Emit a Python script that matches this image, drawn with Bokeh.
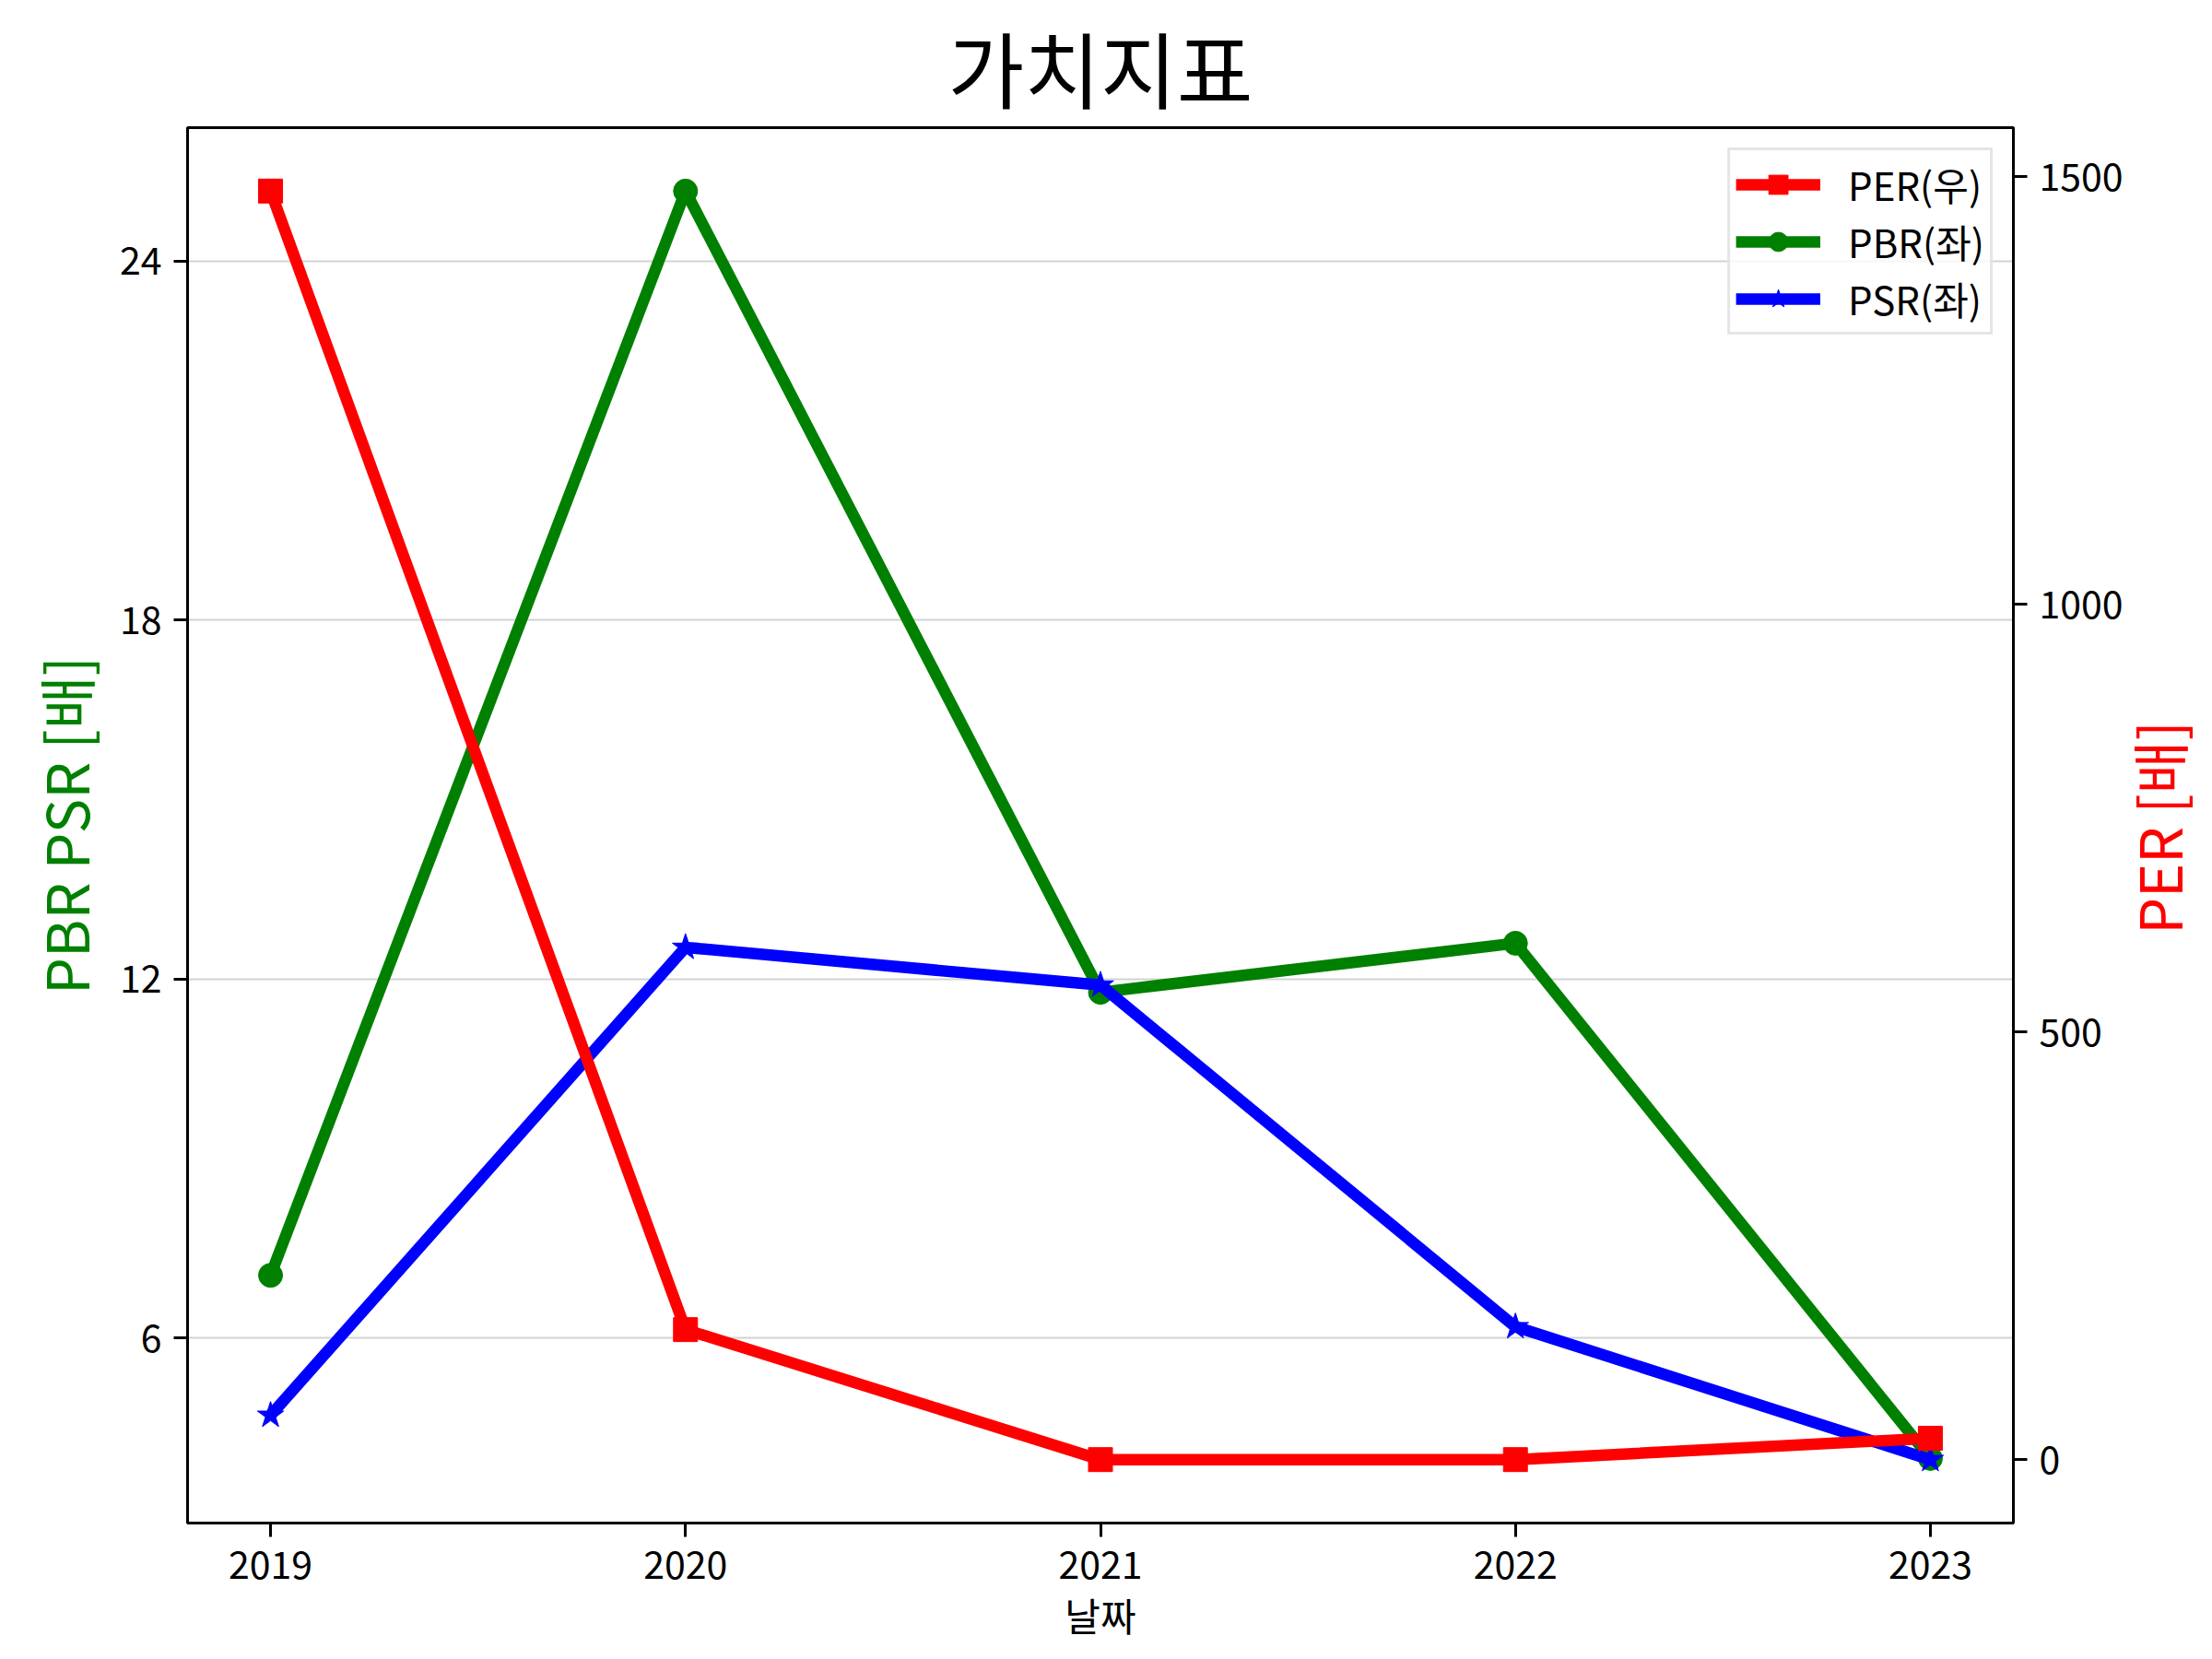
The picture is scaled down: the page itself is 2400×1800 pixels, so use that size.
import math
from bokeh.plotting import figure
from bokeh.models import Range1d, LinearAxis, FixedTicker, Legend, LegendItem
from bokeh.layouts import row
from bokeh.core.properties import value
from bokeh.embed import file_html
from bokeh.resources import INLINE

years = [2019, 2020, 2021, 2022, 2023]
per = [1483, 152, 0, 0, 25]
pbr = [7.05, 25.17, 11.78, 12.6, 3.99]
psr = [4.71, 12.53, 11.9, 6.19, 3.97]

left_ticks = [6, 12, 18, 24]
right_ticks = [0, 500, 1000, 1500]

FONT = "Noto Sans CJK KR"


def padded(vals, frac=0.05):
    lo, hi = min(vals), max(vals)
    m = (hi - lo) * frac
    return lo - m, hi + m


xlo, xhi = padded(years)
ylo, yhi = padded(pbr + psr)
rlo, rhi = padded(per)

TOTAL_W = 2384
MAIN_W = 2306
SIDE_W = TOTAL_W - MAIN_W
H = 1784
FRAME_L, FRAME_R, FRAME_T, FRAME_B = 203, 2186, 138, 1655

p = figure(width=MAIN_W, height=H, output_backend="svg", toolbar_location=None,
           x_range=Range1d(xlo, xhi), y_range=Range1d(ylo, yhi),
           min_border_left=FRAME_L, min_border_right=MAIN_W - FRAME_R,
           min_border_top=FRAME_T, min_border_bottom=H - FRAME_B,
           title="가치지표")
p.extra_y_ranges = {"per": Range1d(rlo, rhi)}

p.title.align = "center"
p.title.text_font = FONT
p.title.text_font_size = "90px"
p.title.text_font_style = "normal"
p.title.text_color = "black"
p.title.standoff = 4

p.background_fill_color = "white"
p.border_fill_color = "white"
p.outline_line_color = "black"
p.outline_line_width = 3

p.xgrid.visible = False
p.ygrid.grid_line_color = "#d3d3d3"
p.ygrid.grid_line_width = 2
p.ygrid.ticker = FixedTicker(ticks=left_ticks)

right_axis = LinearAxis(y_range_name="per")
p.add_layout(right_axis, "right")

for ax in [p.xaxis[0], p.yaxis[0], right_axis]:
    ax.axis_line_color = "black"
    ax.axis_line_width = 3
    ax.major_tick_line_color = "black"
    ax.major_tick_line_width = 3
    ax.major_tick_out = 15
    ax.major_tick_in = 0
    ax.minor_tick_line_color = None
    ax.major_label_text_font = FONT
    ax.major_label_text_font_size = "41px"
    ax.major_label_text_color = "black"
    ax.axis_label_text_font = FONT
    ax.axis_label_text_font_style = "normal"

p.xaxis[0].ticker = FixedTicker(ticks=years)
p.xaxis[0].major_label_standoff = 15
p.xaxis[0].axis_label = "날짜"
p.xaxis[0].axis_label_text_font_size = "42px"
p.xaxis[0].axis_label_text_color = "black"
p.xaxis[0].axis_label_standoff = 5

p.yaxis[0].ticker = FixedTicker(ticks=left_ticks)
p.yaxis[0].major_label_standoff = 13
p.yaxis[0].axis_label = "PBR PSR [배]"
p.yaxis[0].axis_label_text_font_size = "63px"
p.yaxis[0].axis_label_text_color = "green"
p.yaxis[0].axis_label_standoff = 12

right_axis.ticker = FixedTicker(ticks=right_ticks)
right_axis.major_label_standoff = 13

LW = 12.5
MS = 26

l_pbr = p.line(years, pbr, line_color="green", line_width=LW)
m_pbr = p.scatter(years, pbr, marker="circle", size=MS, fill_color="green", line_color="green")
l_psr = p.line(years, psr, line_color="blue", line_width=LW)
m_psr = p.scatter(years, psr, marker="star", size=MS + 4, fill_color="blue", line_color="blue")
l_per = p.line(years, per, line_color="red", line_width=LW, y_range_name="per")
m_per = p.scatter(years, per, marker="square", size=MS, fill_color="red", line_color="red", y_range_name="per")

legend = Legend(items=[
    LegendItem(label="PER(우)", renderers=[l_per, m_per]),
    LegendItem(label="PBR(좌)", renderers=[l_pbr, m_pbr]),
    LegendItem(label="PSR(좌)", renderers=[l_psr, m_psr]),
], location="top_right")
legend.label_text_font = FONT
legend.label_text_font_size = "42px"
legend.label_text_color = "black"
legend.glyph_width = 92
legend.glyph_height = 52
legend.label_height = 52
legend.label_standoff = 30
legend.spacing = 1
legend.padding = 6
legend.margin = 22
legend.border_line_color = "#cccccc"
legend.border_line_width = 3
legend.background_fill_color = "white"
legend.background_fill_alpha = 0.8
p.add_layout(legend, "center")

# narrow strip on the right carrying the PER axis title, reading bottom-to-top
LABEL_CX = 2340 - MAIN_W
LABEL_CY = 895
side = figure(width=SIDE_W, height=H, output_backend="svg", toolbar_location=None,
              x_range=Range1d(0, SIDE_W), y_range=Range1d(0, H),
              min_border=0, min_border_left=0, min_border_right=0,
              min_border_top=0, min_border_bottom=0)
side.axis.visible = False
side.grid.visible = False
side.outline_line_color = None
side.background_fill_color = "white"
side.border_fill_color = "white"
side.text(x=[LABEL_CX], y=[H - LABEL_CY], text=["PER [배]"], angle=math.pi / 2,
          text_align="center", text_baseline="middle", text_color="red",
          text_font_size="63px", text_font=value(FONT))

layout = row(p, side, spacing=0)
open("out.html", "w").write(file_html(layout, INLINE))
